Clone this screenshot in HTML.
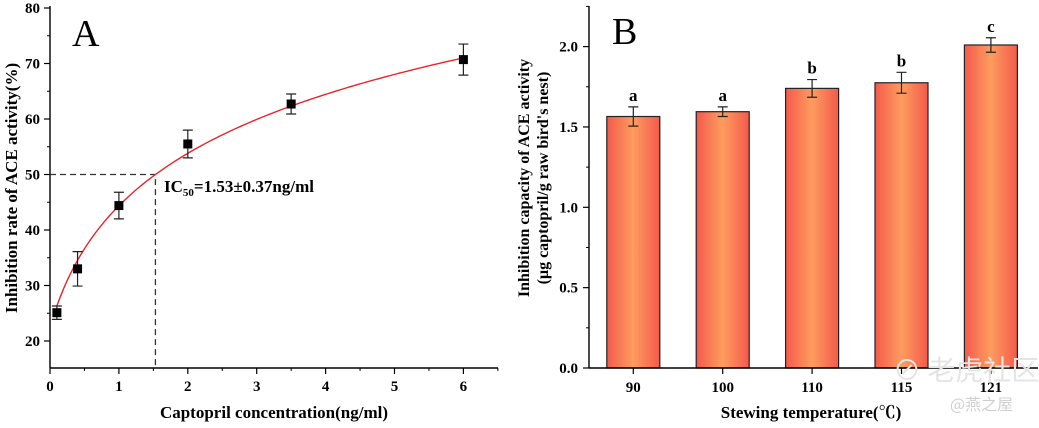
<!DOCTYPE html>
<html><head><meta charset="utf-8"><style>
html,body{margin:0;padding:0;background:#fff;}
svg{display:block;font-family:"Liberation Serif","Noto Serif CJK SC",serif;font-weight:bold;}
</style></head><body>
<svg id="c" width="1039" height="428" viewBox="0 0 1039 428" xmlns="http://www.w3.org/2000/svg">
<defs>
<linearGradient id="bg" x1="0" x2="1" y1="0" y2="0">
<stop offset="0" stop-color="#f45a4c"/><stop offset="0.5" stop-color="#fd9c5f"/><stop offset="1" stop-color="#f45a4c"/>
</linearGradient>
</defs>
<g id="pa"></g>
<g id="pb"></g>
<text x="893" y="380" font-size="28" fill="#e4e4e4" font-weight="normal" font-family="'Noto Sans CJK SC',sans-serif">⊘ 老虎社区</text>
<text x="950" y="410" font-size="16" fill="#d0d0d0" font-weight="normal" font-family="'Noto Sans CJK SC',sans-serif">@燕之屋</text>
</svg>
<script>
// Panel A data
const concX = [0.1, 0.4, 1, 2, 3.5, 6];
const inhibY = [25.1, 33.0, 44.4, 55.5, 62.7, 70.7];
const inhibErr = [1.2, 3.1, 2.4, 2.5, 1.8, 2.8];
const aXTicks = [0, 1, 2, 3, 4, 5, 6];
const aYTicks = [20, 30, 40, 50, 60, 70, 80];
const fitA = 38.47, fitB = 17.53, fitC = 0.4;
const ic50 = 1.53;
// Panel B data
const temps = ["90", "100", "110", "115", "121"];
const capVals = [1.565, 1.595, 1.74, 1.775, 2.01];
const capErr = [0.06, 0.03, 0.055, 0.065, 0.045];
const sigLetters = ["a", "a", "b", "b", "c"];
const bYTicks = [0.0, 0.5, 1.0, 1.5, 2.0];

const NS = "http://www.w3.org/2000/svg";
function mk(parent, tag, attrs, text) {
  const e = document.createElementNS(NS, tag);
  for (const k in attrs) e.setAttribute(k, attrs[k]);
  if (text !== undefined) e.textContent = text;
  parent.appendChild(e);
  return e;
}
// ---------- Panel A ----------
const pa = document.getElementById('pa');
const ax = v => 50 + v * 68.9;
const ay = v => 341 - (v - 20) * 5.55;
let e;
e = mk(pa, 'line', {x1: 50, y1: 368, x2: 498, y2: 368, stroke: '#000', 'stroke-width': 1.4});


e = mk(pa, 'line', {x1: 50, y1: 6, x2: 50, y2: 368, stroke: '#000', 'stroke-width': 1.4});


aXTicks.forEach(t => {
  mk(pa, 'line', {x1: ax(t), y1: 368, x2: ax(t), y2: 374, stroke: '#000', 'stroke-width': 1.2});
  mk(pa, 'line', {x1: ax(t + 0.5), y1: 368, x2: ax(t + 0.5), y2: 371, stroke: '#000', 'stroke-width': 1});
  e = mk(pa, 'text', {x: ax(t), y: 391, 'font-size': 15, 'text-anchor': 'middle'}, String(t));
  
  
});
aYTicks.forEach(t => {
  mk(pa, 'line', {x1: 44, y1: ay(t), x2: 50, y2: ay(t), stroke: '#000', 'stroke-width': 1.2});
  if (t > 20) mk(pa, 'line', {x1: 47, y1: ay(t - 5), x2: 50, y2: ay(t - 5), stroke: '#000', 'stroke-width': 1});
  e = mk(pa, 'text', {x: 40, y: ay(t) + 5, 'font-size': 15, 'text-anchor': 'end'}, String(t));
  
  
});
e = mk(pa, 'path', {d: `M${ax(0)},${ay(50)} H${ax(ic50)} V368`, fill: 'none', stroke: '#333', 'stroke-width': 1.3, 'stroke-dasharray': '6,4'});


let d = '';
for (let i = 0; i <= 120; i++) {
  const x = concX[0] + (concX[concX.length - 1] - concX[0]) * i / 120;
  const y = fitA + fitB * Math.log(x + fitC);
  d += (i ? 'L' : 'M') + ax(x).toFixed(2) + ',' + ay(y).toFixed(2);
}
e = mk(pa, 'path', {d: d, fill: 'none', stroke: '#e8262a', 'stroke-width': 1.4});


concX.forEach((x, i) => {
  const cx = ax(x), y = inhibY[i], er = inhibErr[i];
  const g = mk(pa, 'g', {});
  
  
  mk(g, 'path', {d: `M${cx},${ay(y + er)}V${ay(y - er)}M${cx - 5},${ay(y + er)}H${cx + 5}M${cx - 5},${ay(y - er)}H${cx + 5}`, stroke: '#222', 'stroke-width': 1.2, fill: 'none'});
  mk(g, 'rect', {x: cx - 4.5, y: ay(y) - 4.5, width: 9, height: 9, fill: '#000'});
});
e = mk(pa, 'text', {x: 72, y: 46, 'font-size': 38, 'font-weight': 'normal'}, 'A');


e = mk(pa, 'text', {x: 164, y: 192, 'font-size': 17});


e.innerHTML = 'IC<tspan font-size="11" dy="4">50</tspan><tspan dy="-4">=1.53±0.37ng/ml</tspan>';
e = mk(pa, 'text', {x: 274, y: 418, 'font-size': 17, 'text-anchor': 'middle'}, 'Captopril concentration(ng/ml)');


e = mk(pa, 'text', {x: 0, y: 0, 'font-size': 17, 'text-anchor': 'middle', transform: 'translate(17,188) rotate(-90)'}, 'Inhibition rate of ACE activity(%)');


// ---------- Panel B ----------
const pb = document.getElementById('pb');
const bx = i => 633.3 + i * 89.4;
const by = v => 368 - v * 160.7;
const bw = 53;
capVals.forEach((v, i) => {
  const g = mk(pb, 'g', {});
  
  
  mk(g, 'rect', {x: bx(i) - bw / 2, y: by(v), width: bw, height: 368 - by(v), fill: 'url(#bg)', stroke: '#222', 'stroke-width': 1.2});
  const er = capErr[i], cx = bx(i);
  mk(g, 'path', {d: `M${cx},${by(v + er)}V${by(v - er)}M${cx - 5},${by(v + er)}H${cx + 5}M${cx - 5},${by(v - er)}H${cx + 5}`, stroke: '#222', 'stroke-width': 1.2, fill: 'none'});
  const t = mk(g, 'text', {x: cx, y: by(v + er) - 6, 'font-size': 17, 'text-anchor': 'middle'}, sigLetters[i]);
  
  
  const tl = mk(pb, 'text', {x: cx, y: 392, 'font-size': 15, 'text-anchor': 'middle'}, temps[i]);
  
  
  mk(pb, 'line', {x1: cx, y1: 368, x2: cx, y2: 374, stroke: '#000', 'stroke-width': 1.2});
});
e = mk(pb, 'line', {x1: 589, y1: 368, x2: 1038, y2: 368, stroke: '#000', 'stroke-width': 1.4});


e = mk(pb, 'line', {x1: 589, y1: 6, x2: 589, y2: 368, stroke: '#000', 'stroke-width': 1.4});


bYTicks.forEach(t => {
  mk(pb, 'line', {x1: 583, y1: by(t), x2: 589, y2: by(t), stroke: '#000', 'stroke-width': 1.2});
  mk(pb, 'line', {x1: 586, y1: by(t + 0.25), x2: 589, y2: by(t + 0.25), stroke: '#000', 'stroke-width': 1});
  e = mk(pb, 'text', {x: 578, y: by(t) + 5, 'font-size': 15, 'text-anchor': 'end'}, t.toFixed(1));
  
  
});
e = mk(pb, 'text', {x: 612, y: 44, 'font-size': 38, 'font-weight': 'normal'}, 'B');


e = mk(pb, 'text', {x: 811, y: 418, 'font-size': 17, 'text-anchor': 'middle'}, 'Stewing temperature(℃)');


e = mk(pb, 'text', {x: 0, y: 0, 'font-size': 16, 'text-anchor': 'middle', transform: 'translate(529,178) rotate(-90)'}, 'Inhibition capacity of ACE activity');


e = mk(pb, 'text', {x: 0, y: 0, 'font-size': 16, 'text-anchor': 'middle', transform: 'translate(548,178) rotate(-90)'}, "(μg captopril/g raw bird's nest)");


</script>
</body></html>
